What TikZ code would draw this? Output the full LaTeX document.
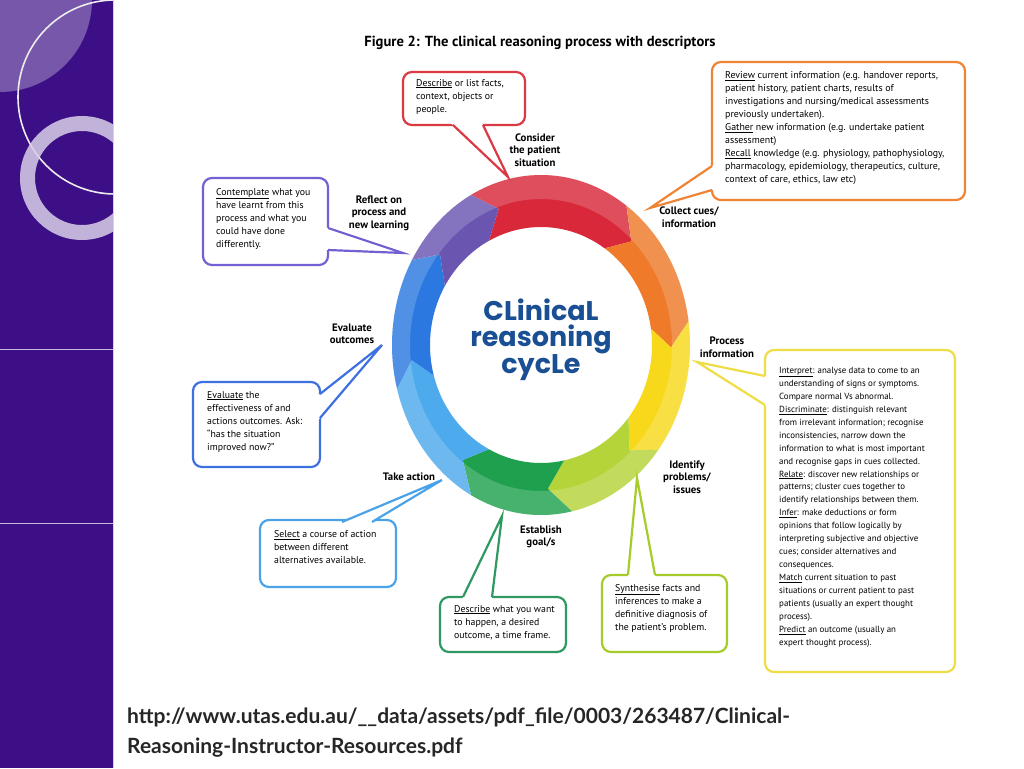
\documentclass[tikz,border=0pt]{standalone}
\usepackage{fontspec}
\setmainfont{PT Sans}
\newfontfamily\urlfont{Lato}
\newfontfamily\logofont{Poppins}
\usetikzlibrary{calc}
\definecolor{strip}{HTML}{3D0F86}
\definecolor{cred}{HTML}{DB3A45}
\definecolor{corange}{HTML}{EE8434}
\definecolor{cyellow}{HTML}{EEDD44}
\definecolor{clgreen}{HTML}{A5CC2A}
\definecolor{cgreen}{HTML}{2E9A62}
\definecolor{clblue}{HTML}{4AA3E8}
\definecolor{cblue}{HTML}{3F70E0}
\definecolor{cpurple}{HTML}{7460D0}
\definecolor{sred}{HTML}{D8283A}
\definecolor{sorange}{HTML}{EF7A2A}
\definecolor{syellow}{HTML}{F7D81A}
\definecolor{slgreen}{HTML}{B5D43A}
\definecolor{sgreen}{HTML}{1FA04F}
\definecolor{slblue}{HTML}{4DAAEC}
\definecolor{sblue}{HTML}{2A78E0}
\definecolor{spurple}{HTML}{6A55B0}
\definecolor{logo}{HTML}{1A4F93}
\tikzset{
  lbl/.style={font=\bfseries\fontsize{10.8}{12.5}\selectfont,align=center,inner sep=0pt},
  ctext/.style={anchor=north west,align=left,inner sep=0pt,font=\fontsize{9.8}{13}\selectfont},
}
\newcommand\callout[6]{%
  \filldraw[#1,fill=white,line width=2.2pt,rounded corners=9pt] #2 rectangle #3;
  \fill[white] ($#4!-6pt!#5$) -- #5 -- ($#6!-6pt!#5$) -- cycle;
  \draw[#1,line width=2.2pt,line join=miter] #4 -- #5 -- #6;
}
\newcommand\seg[3]{%
  \fill[#3] plot[domain=#1:#2,samples=30] ({541+149*cos(\x)},{345-170*sin(\x)})
    -- ({541+130*cos(#2-9)},{345-144*sin(#2-9)})
    -- plot[domain=#2:#1,samples=30] ({541+111*cos(\x)},{345-118*sin(\x)})
    -- ({541+130*cos(#1-9)},{345-144*sin(#1-9)}) -- cycle;}
\begin{document}
\begin{tikzpicture}[x=1pt,y=-1pt]
\useasboundingbox (0,0) rectangle (1024,768);
\fill[white] (0,0) rectangle (1024,768);
% left strip
\begin{scope}
\clip (0,0) rectangle (113,768);
\fill[strip] (0,0) rectangle (113,768);
\fill[white,opacity=0.3] (0,0) circle (92);
\draw[white!85!gray,line width=1.6pt] (115,97) circle (97);
\fill[white!80!strip,opacity=0.85,even odd rule] (82,178) circle (62) (82,178) circle (47);
\draw[white!70!strip,line width=0.6pt] (0,349) -- (113,349) (0,523) -- (113,523);
\end{scope}
\draw[white!80!strip,line width=0.8pt] (113,0) -- (113,768);
% title
\node[font=\bfseries\fontsize{14.6}{16}\selectfont] (title) at (540,43) {Figure 2: The clinical reasoning process with descriptors};
% ring
\seg{118}{55}{sred}
\seg{55}{8}{sorange}
\seg{8}{-38}{syellow}
\seg{-38}{-78}{slgreen}
\seg{-78}{-118}{sgreen}
\seg{-118}{-165}{slblue}
\seg{-165}{-210}{sblue}
\seg{-210}{-242}{spurple}
\fill[white,opacity=0.18,even odd rule] (541,345) ellipse [x radius=149,y radius=170] (541,345) ellipse [x radius=131,y radius=146];
\node[font=\logofont\bfseries\fontsize{27}{26}\selectfont,text=logo,align=center] (logo) at (541,340) {CLinicaL\\reasoning\\cycLe};
% callouts
\callout{cred}{(403,72)}{(525,125)}{(453,125)}{(508,177)}{(483,125)}
\node[ctext] (t1) at (416,79) {\underline{Describe} or list facts,\\context, objects or\\people.};
\callout{corange}{(712,62)}{(965,200)}{(712,166)}{(650,208)}{(712,190)}
\node[ctext,font=\fontsize{9.9}{13}\selectfont] (t2) at (725,71) {\underline{Review} current information (e.g. handover reports,\\patient history, patient charts, results of\\investigations and nursing/medical assessments\\previously undertaken).\\\underline{Gather} new information (e.g. undertake patient\\assessment)\\\underline{Recall} knowledge (e.g. physiology, pathophysiology,\\pharmacology, epidemiology, therapeutics, culture,\\context of care, ethics, law etc)};
\callout{cyellow}{(765,350)}{(955,672)}{(765,376)}{(697,362)}{(765,405)}
\node[ctext,font=\fontsize{8.9}{12.95}\selectfont] (t3) at (779,367) {\underline{Interpret}: analyse data to come to an\\understanding of signs or symptoms.\\Compare normal Vs abnormal.\\\underline{Discriminate}: distinguish relevant\\from irrelevant information; recognise\\inconsistencies, narrow down the\\information to what is most important\\and recognise gaps in cues collected.\\\underline{Relate}: discover new relationships or\\patterns; cluster cues together to\\identify relationships between them.\\\underline{Infer}: make deductions or form\\opinions that follow logically by\\interpreting subjective and objective\\cues; consider alternatives and\\consequences.\\\underline{Match} current situation to past\\situations or current patient to past\\patients (usually an expert thought\\process).\\\underline{Predict} an outcome (usually an\\expert thought process).};
\callout{clgreen}{(602,575)}{(727,652)}{(628,575)}{(637,478)}{(655,575)}
\node[ctext] (t4) at (615,584) {\underline{Synthesise} facts and\\inferences to make a\\definitive diagnosis of\\the patient's problem.};
\callout{cgreen}{(440,597)}{(566,652)}{(463,597)}{(502,516)}{(492,597)}
\node[ctext] (t5) at (454,605) {\underline{Describe} what you want\\to happen, a desired\\outcome, a time frame.};
\callout{clblue}{(260,520)}{(396,587)}{(342,522)}{(442,480)}{(372,522)}
\node[ctext] (t6) at (274,530) {\underline{Select} a course of action\\between different\\alternatives available.};
\callout{cblue}{(193,382)}{(320,467)}{(320,394)}{(382,345)}{(320,418)}
\node[ctext] (t7) at (207,391) {\underline{Evaluate} the\\effectiveness of and\\actions outcomes. Ask:\\``has the situation\\improved now?''};
\callout{cpurple}{(203,178)}{(328,265)}{(328,228)}{(403,253)}{(328,250)}
\node[ctext] (t8) at (216,188) {\underline{Contemplate} what you\\have learnt from this\\process and what you\\could have done\\differently.};
% stage labels
\node[lbl] (l1) at (535,150) {Consider\\the patient\\situation};
\node[lbl] (l2) at (689,217) {Collect cues/\\information};
\node[lbl] (l3) at (727,347) {Process\\information};
\node[lbl] (l4) at (687,477) {Identify\\problems/\\issues};
\node[lbl] (l5) at (541,537) {Establish\\goal/s};
\node[lbl] (l6) at (409,477) {Take action};
\node[lbl] (l7) at (352,334) {Evaluate\\outcomes};
\node[lbl] (l8) at (379,213) {Reflect on\\process and\\new learning};
% url
\node[anchor=west,font=\urlfont\bfseries\fontsize{21}{30}\selectfont,text=black!85,align=left,inner sep=0pt] (url) at (127,733) {http://www.utas.edu.au/\_\_data/assets/pdf\_file/0003/263487/Clinical-\\Reasoning-Instructor-Resources.pdf};
\end{tikzpicture}
\end{document}
